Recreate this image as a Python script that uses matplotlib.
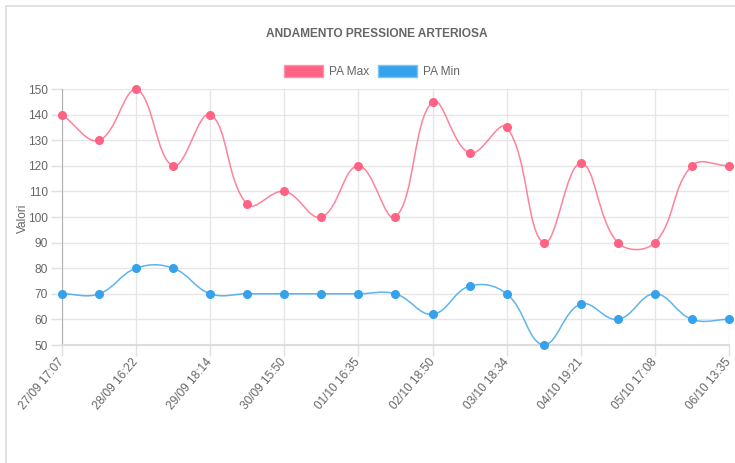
import numpy as np
import matplotlib
matplotlib.use("Agg")
import matplotlib.pyplot as plt
from matplotlib.path import Path
from matplotlib.patches import PathPatch, Patch, Rectangle

plt.rcParams['font.family'] = ['Liberation Sans', 'DejaVu Sans']

# dati
pa_max = [140, 130, 150, 120, 140, 105, 110, 100, 120, 100, 145, 125, 135, 90, 121, 90, 90, 120, 120]
pa_min = [70, 70, 80, 80, 70, 70, 70, 70, 70, 70, 62, 73, 70, 50, 66, 60, 70, 60, 60]
# etichette visibili (una ogni due misure)
x_labels = ['27/09 17:07', '28/09 16:22', '29/09 18:14', '30/09 15:50', '01/10 16:35',
            '02/10 18:50', '03/10 18:34', '04/10 19:21', '05/10 17:08', '06/10 13:35']

RED = '#ff6384'
BLUE = '#36a2eb'
GREY = '#666666'
W, H = 735, 463


def spline_path(ax, xs, ys, t=0.4):
    # curva bezier come Chart.js (tensione 0.4), calcolata in pixel
    pts = ax.transData.transform(np.column_stack([xs, ys]))
    n = len(pts)
    cps = []
    for i in range(n):
        prev = pts[i - 1] if i > 0 else pts[i]
        cur = pts[i]
        nxt = pts[i + 1] if i < n - 1 else pts[i]
        d01 = np.hypot(*(cur - prev))
        d12 = np.hypot(*(nxt - cur))
        tot = d01 + d12
        s01 = d01 / tot if tot else 0
        s12 = d12 / tot if tot else 0
        cps.append((cur - t * s01 * (nxt - prev), cur + t * s12 * (nxt - prev)))
    inv = ax.transData.inverted()
    ylo, yhi = ax.get_ylim()
    verts = [tuple(inv.transform(pts[0]))]
    codes = [Path.MOVETO]
    for i in range(n - 1):
        c1 = inv.transform(cps[i][1])
        c2 = inv.transform(cps[i + 1][0])
        c1[1] = min(max(c1[1], ylo), yhi)
        c2[1] = min(max(c2[1], ylo), yhi)
        verts += [tuple(c1), tuple(c2), tuple(inv.transform(pts[i + 1]))]
        codes += [Path.CURVE4] * 3
    return Path(verts, codes)


fig = plt.figure(figsize=(W / 100, H / 100), dpi=100)
ax = fig.add_axes([62 / W, 1 - 345 / H, (729 - 62) / W, (345 - 89) / H])

x = np.arange(len(pa_max))
ax.set_xlim(0, len(pa_max) - 1)
ax.set_ylim(50, 150)

for vals, col in [(pa_max, RED), (pa_min, BLUE)]:
    p = spline_path(ax, x, vals)
    ax.add_patch(PathPatch(p, fill=False, edgecolor=col, lw=1.1, alpha=0.8, zorder=3))
    ax.plot(x, vals, 'o', color=col, ms=5.5, zorder=4, clip_on=False)

ax.set_yticks(np.arange(50, 151, 10))
ax.set_xticks(x[::2])
ax.set_xticklabels(x_labels, rotation=50, ha='right', va='center', rotation_mode='anchor')
ax.tick_params(axis='both', colors='#e0e0e0', labelcolor=GREY, labelsize=8.6, length=8, width=1)
ax.tick_params(axis='x', pad=3)
ax.tick_params(axis='y', pad=2)
ax.grid(True, color='#e6e6e6', lw=1)
ax.set_axisbelow(True)
for s in ['top', 'right']:
    ax.spines[s].set_visible(False)
ax.spines['left'].set_color('#b0b0b0')
ax.spines['bottom'].set_color('#dcdcdc')
ax.spines['bottom'].set_linewidth(1.5)

# etichetta asse y
fig.text(23 / W, 1 - 218 / H, 'Valori', rotation=90, ha='center', va='center',
         color=GREY, fontsize=8.6)

fig.text(377 / W, 1 - 34 / H, 'ANDAMENTO PRESSIONE ARTERIOSA', ha='center', va='center',
         fontsize=8.6, fontweight='bold', color=GREY)

handles = [Patch(facecolor=RED, edgecolor='#ff94aa', label='PA Max'),
           Patch(facecolor=BLUE, edgecolor='#7cc4f2', label='PA Min')]
fig.legend(handles=handles, loc='center', bbox_to_anchor=(372 / W, 1 - 71.5 / H), ncol=2,
           frameon=False, fontsize=8.6, labelcolor=GREY, handlelength=3.25, handleheight=1.15,
           handletextpad=0.5, columnspacing=0.7, borderaxespad=0)

# bordo del riquadro
fig.patches.append(Rectangle((5.5 / W, -0.1), 1.2, 1 - 5.5 / H + 0.1, transform=fig.transFigure,
                             fill=False, edgecolor='#dddddd', lw=1.2))

fig.savefig('out.png', dpi=100)
